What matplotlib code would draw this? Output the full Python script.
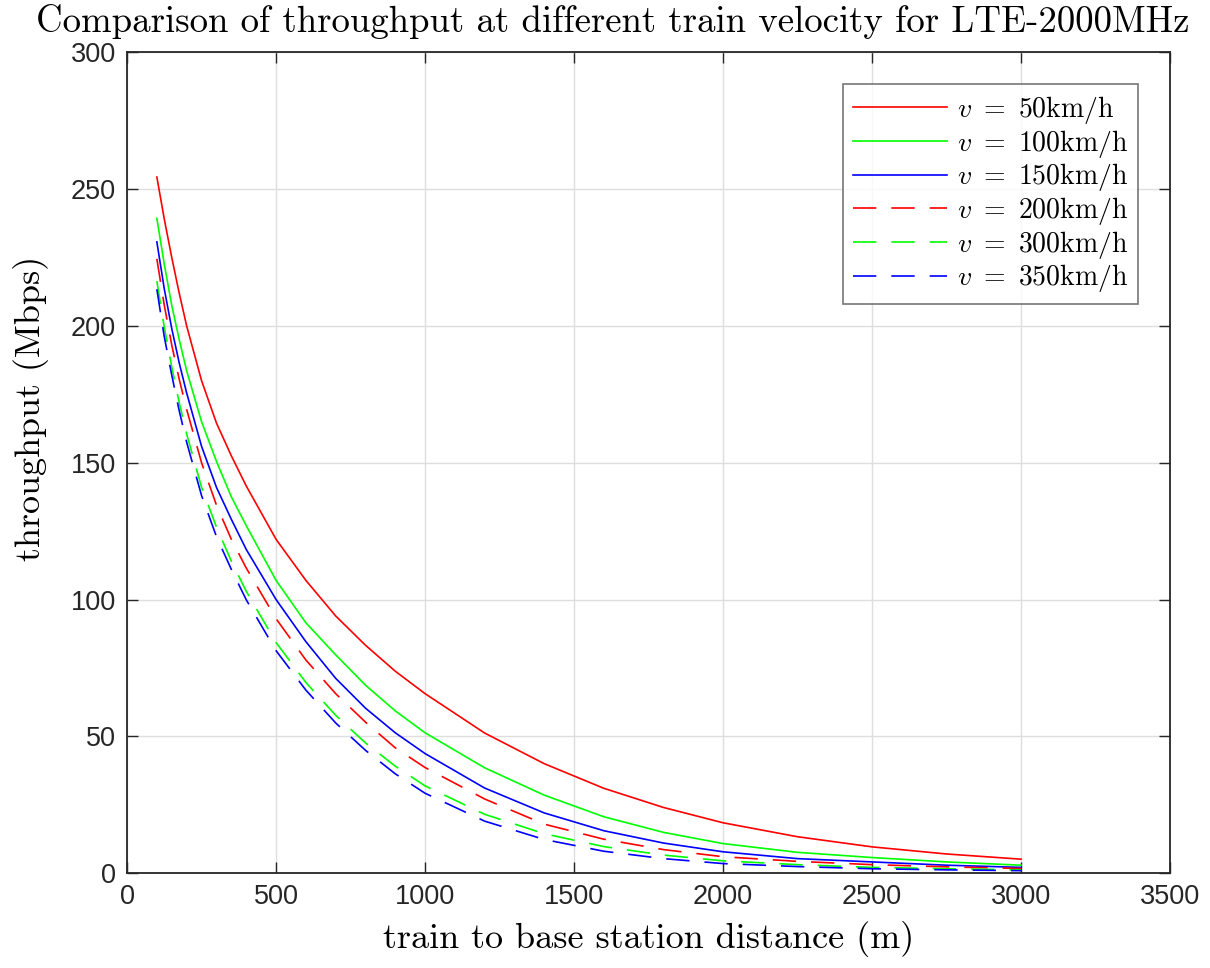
import numpy as np
import matplotlib
matplotlib.use('Agg')
import matplotlib.pyplot as plt

# distance samples (m) and throughput (Mbps)
distance = [100, 125, 150, 175, 200, 250, 300, 350, 400, 500, 600, 700, 800, 900, 1000,
            1200, 1400, 1600, 1800, 2000, 2250, 2500, 2750, 3000]

v50 = [254.4, 239, 225, 212, 200, 180, 164.5, 152.5, 141.5, 122, 107, 94, 83.3, 73.8, 65.6,
       51.2, 40, 31, 24, 18.4, 13.3, 9.6, 7.0, 5.1]
v100 = [239.3, 222.5, 207.5, 195, 183.6, 165, 150.5, 137.5, 127, 107, 91.5, 79.8, 68.7, 59.3, 51.3,
        38.5, 28.5, 20.6, 14.9, 10.8, 7.6, 5.7, 4.1, 2.9]
v150 = [230.7, 213.5, 199, 186.5, 175.5, 156, 141, 129.3, 118.3, 100, 84.6, 71.2, 60.3, 51.3, 43.7,
        31.1, 22, 15.5, 11, 7.8, 5.3, 4.1, 2.9, 2.1]
v200 = [224.5, 207.5, 193, 180.5, 169.5, 150, 134.5, 122, 111.5, 93, 77.9, 65.6, 55.2, 45.8, 38.6,
        27.1, 17.9, 12.4, 8.6, 6.0, 4.3, 3.1, 2.3, 1.7]
v300 = [216.4, 199.5, 185, 172, 160.5, 141, 126.5, 114, 103, 84.3, 69.7, 57.7, 47.6, 39.1, 31.9,
        21.5, 14.4, 9.7, 6.6, 4.5, 3.1, 2.1, 1.6, 1.2]
v350 = [213.4, 196, 182, 169, 157.5, 138, 123, 111, 99.9, 81.3, 66.9, 54.9, 44.9, 36.3, 29.2,
        19.0, 12.3, 8.0, 5.3, 3.5, 2.4, 1.6, 1.2, 0.9]

labels = [r'$v\ =\ 50\mathrm{km/h}$', r'$v\ =\ 100\mathrm{km/h}$', r'$v\ =\ 150\mathrm{km/h}$',
          r'$v\ =\ 200\mathrm{km/h}$', r'$v\ =\ 300\mathrm{km/h}$', r'$v\ =\ 350\mathrm{km/h}$']

plt.rcParams['mathtext.fontset'] = 'cm'
plt.rcParams['font.family'] = ['Liberation Sans', 'DejaVu Sans']

fig = plt.figure(figsize=(12.1, 9.68), dpi=100)
ax = fig.add_axes([0.105, 0.098, 0.862, 0.848])

red, green, blue = '#ff0000', '#00ff00', '#0000ff'
lw = 1.2
dash = (14, 9)
ax.plot(distance, v50, color=red, lw=lw, label=labels[0])
ax.plot(distance, v100, color=green, lw=lw, label=labels[1])
ax.plot(distance, v150, color=blue, lw=lw, label=labels[2])
ax.plot(distance, v200, color=red, lw=lw, dashes=dash, label=labels[3])
ax.plot(distance, v300, color=green, lw=lw, dashes=dash, label=labels[4])
ax.plot(distance, v350, color=blue, lw=lw, dashes=dash, label=labels[5])

ax.set_xlim(0, 3500)
ax.set_ylim(0, 300)
ax.set_xticks(np.arange(0, 3501, 500))
ax.set_yticks(np.arange(0, 301, 50))
ax.grid(True, color='#dedede', lw=1.0)
ax.set_axisbelow(True)

for s in ax.spines.values():
    s.set_color('#262626')
    s.set_linewidth(1.3)
ax.tick_params(direction='in', length=8, width=1.0, color='#262626',
               top=True, right=True, labelsize=19.5, labelcolor='#262626', pad=8)

fig.text(0.506, 0.967, 'Comparison of throughput at different train velocity for LTE-2000MHz',
         family='cmr10', fontsize=26.5, ha='center', va='baseline')
ax.set_xlabel('train to base station distance (m)', family='cmr10', fontsize=26)
ax.set_ylabel('throughput (Mbps)', family='cmr10', fontsize=26)
ax.xaxis.set_label_coords(0.5, -0.058)
ax.yaxis.set_label_coords(-0.075, 0.566)

leg = ax.legend(loc='upper right', fontsize=20, frameon=True, fancybox=False,
                borderaxespad=1.15, handlelength=3.4, handletextpad=0.35,
                labelspacing=0.06, borderpad=0.35)
leg.get_frame().set_edgecolor('#555555')
leg.get_frame().set_linewidth(1.2)

fig.savefig('out.png', dpi=100)
